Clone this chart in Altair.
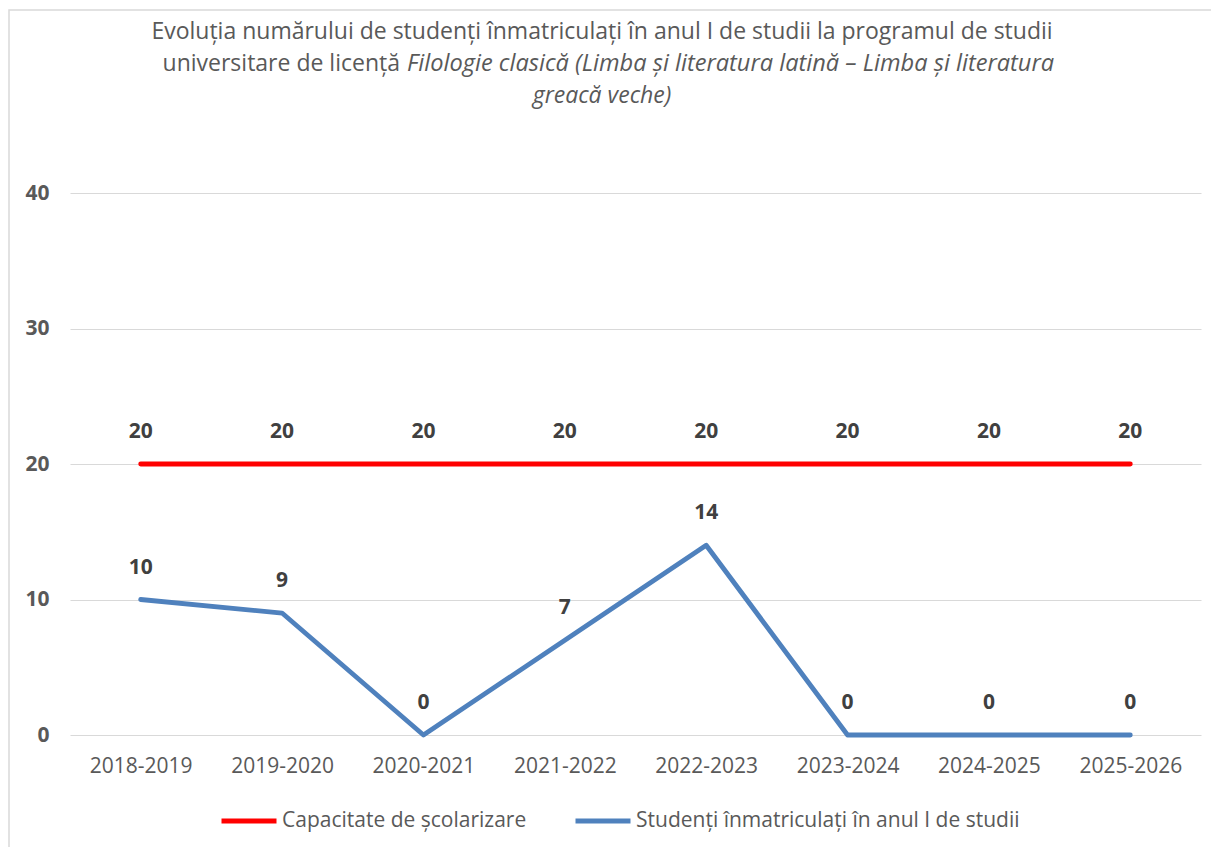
import altair as alt
import pandas as pd

years = ["2018-2019", "2019-2020", "2020-2021", "2021-2022",
         "2022-2023", "2023-2024", "2024-2025", "2025-2026"]
capacity = [20, 20, 20, 20, 20, 20, 20, 20]
enrolled = [10, 9, 0, 7, 14, 0, 0, 0]
series_names = ["Capacitate de școlarizare",
                "Studenți înmatriculați în anul I de studii"]
series_colors = ["#FF0000", "#4F81BD"]
y_ticks = [0, 10, 20, 30, 40]

title_line1 = "Evoluția numărului de studenți înmatriculați în anul I de studii la programul de studii"
title_line2a = "universitare de licență"
title_line2b = "Filologie clasică (Limba și literatura latină – Limba și literatura"
title_line3 = "greacă veche)"

rows = []
for name, vals in zip(series_names, [capacity, enrolled]):
    for i, (yr, v) in enumerate(zip(years, vals)):
        rows.append({"an": yr, "valoare": v, "serie": name, "ord": i})
df = pd.DataFrame(rows)

FONT = "Open Sans"
GRAY = "#595959"
W, H = 1131, 542
TS = 23

x_enc = alt.X("an:N", sort=years, title=None,
              scale=alt.Scale(paddingOuter=0.5, paddingInner=0),
              axis=alt.Axis(labelAngle=0, labelFontSize=21, labelColor=GRAY,
                            labelFont=FONT, ticks=False, domain=False,
                            labelPadding=20, grid=False))
y_enc = alt.Y("valoare:Q", title=None,
              scale=alt.Scale(domain=[0, 40], nice=False),
              axis=alt.Axis(values=y_ticks, labelFontSize=21, labelFontWeight="bold",
                            labelColor=GRAY, labelFont=FONT, ticks=False, domain=False,
                            gridColor="#D9D9D9", gridWidth=1.2, labelPadding=21))

lines = alt.Chart(df).mark_line(strokeWidth=4.8, strokeCap="round", strokeJoin="round").encode(
    x=x_enc, y=y_enc,
    color=alt.Color("serie:N",
                    scale=alt.Scale(domain=series_names, range=series_colors),
                    legend=alt.Legend(title=None, orient="none", direction="horizontal",
                                      legendX=149, legendY=598,
                                      symbolType="stroke", symbolSize=3025,
                                      symbolStrokeWidth=4.8, labelFontSize=21,
                                      labelColor=GRAY, labelFont=FONT, labelOffset=3,
                                      columnPadding=38, labelLimit=600)),
    detail="serie:N",
)

labels = alt.Chart(df).mark_text(dy=-32, fontSize=21, fontWeight="bold",
                                 color="#404040", font=FONT).encode(
    x=alt.X("an:N", sort=years), y="valoare:Q", text="valoare:Q")

cx = 532
t1 = alt.Chart(pd.DataFrame({"t": [title_line1]})).mark_text(
    fontSize=TS, color=GRAY, font=FONT, align="center", baseline="middle").encode(
    text="t:N", x=alt.value(cx), y=alt.value(-161))
t2a = alt.Chart(pd.DataFrame({"t": [title_line2a]})).mark_text(
    fontSize=TS, color=GRAY, font=FONT, align="right", baseline="middle").encode(
    text="t:N", x=alt.value(330), y=alt.value(-129))
t2b = alt.Chart(pd.DataFrame({"t": [title_line2b]})).mark_text(
    fontSize=TS + 0.6, color=GRAY, font=FONT, fontStyle="italic", align="left",
    baseline="middle").encode(
    text="t:N", x=alt.value(337), y=alt.value(-129))
t3 = alt.Chart(pd.DataFrame({"t": [title_line3]})).mark_text(
    fontSize=TS, color=GRAY, font=FONT, fontStyle="italic", align="center",
    baseline="middle").encode(
    text="t:N", x=alt.value(cx), y=alt.value(-97))

border = alt.Chart(pd.DataFrame({"a": [0]})).mark_rect(
    fill=None, stroke="#D9D9D9", strokeWidth=1.5).encode(
    x=alt.value(-61), x2=alt.value(1170), y=alt.value(-183), y2=alt.value(720))

chart = alt.layer(border, lines, labels, t1, t2a, t2b, t3).properties(
    width=W, height=H,
    autosize=alt.AutoSizeParams(type="none"),
    padding={"left": 62, "top": 185, "right": 10, "bottom": 112},
).configure_view(stroke=None)

chart.save("out.html", embed_options={"renderer": "svg", "actions": False})
